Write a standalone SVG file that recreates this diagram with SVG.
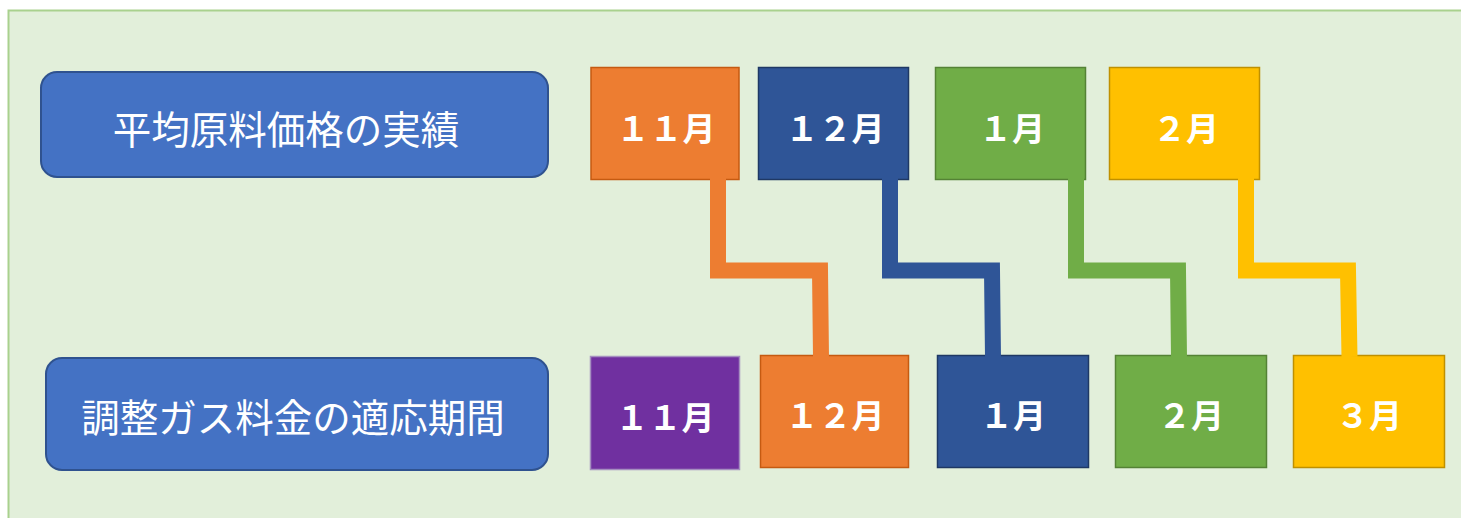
<svg xmlns="http://www.w3.org/2000/svg" width="1461" height="518" viewBox="0 0 1461 518">
<style>
.lbl{fill:#4472c4;stroke:#2f528f;stroke-width:2}
.lt{font-family:"Noto Sans CJK JP","Noto Sans",sans-serif;font-size:38.5px;fill:#fff;text-anchor:middle;dominant-baseline:central}
.mt{font-family:"Noto Sans CJK JP","Noto Sans",sans-serif;font-size:33px;font-weight:bold;fill:#fff;text-anchor:middle;dominant-baseline:central}
.o{fill:#ed7d31;stroke:#c55a11}
.n{fill:#2f5597;stroke:#1f3864}
.g{fill:#70ad47;stroke:#548235}
.y{fill:#ffc000;stroke:#bf9000}
.p{fill:#7030a0;stroke:#a58fc0}
.box{stroke-width:1.5}
.c{fill:none;stroke-width:16;stroke-linejoin:miter;stroke-linecap:butt}
</style>
<rect x="8.5" y="10.5" width="1470" height="520" fill="#e2efda" stroke="#a9d18e" stroke-width="2"/>
<g id="label-actual"><rect class="lbl" x="41" y="72" width="507" height="105" rx="16"/><text class="lt" x="286" y="127">平均原料価格の実績</text></g>
<g id="label-period"><rect class="lbl" x="46" y="358" width="502" height="112" rx="16"/><text class="lt" x="293" y="415">調整ガス料金の適応期間</text></g>
<g id="top-nov"><rect class="box o" x="591" y="67.5" width="148" height="112"/><text class="mt" x="666" y="127">１１月</text></g>
<g id="top-dec"><rect class="box n" x="758.5" y="67.5" width="150" height="112"/><text class="mt" x="835" y="127">１２月</text></g>
<g id="top-jan"><rect class="box g" x="935.5" y="67.5" width="150" height="112"/><text class="mt" x="1012" y="127">１月</text></g>
<g id="top-feb"><rect class="box y" x="1109.5" y="67.5" width="150" height="112"/><text class="mt" x="1186" y="127">２月</text></g>
<g id="bot-nov"><rect class="box p" x="590.5" y="356.5" width="149" height="113"/><text class="mt" x="665" y="416">１１月</text></g>
<g id="bot-dec"><rect class="box o" x="760.5" y="355.5" width="148" height="112"/><text class="mt" x="835" y="414">１２月</text></g>
<g id="bot-jan"><rect class="box n" x="937.5" y="355.5" width="151" height="112"/><text class="mt" x="1013" y="414">１月</text></g>
<g id="bot-feb"><rect class="box g" x="1115.5" y="355.5" width="151" height="112"/><text class="mt" x="1191" y="414">２月</text></g>
<g id="bot-mar"><rect class="box y" x="1293.5" y="355.5" width="151" height="112"/><text class="mt" x="1369" y="414">３月</text></g>
<g id="connectors">
<polyline class="c" stroke="#ed7d31" points="718,178 718,270.5 820,270.5 821,357"/>
<polyline class="c" stroke="#2f5597" points="890,178 890,270.5 992,270.5 993,357"/>
<polyline class="c" stroke="#70ad47" points="1076,178 1076,270.5 1178,270.5 1179,357"/>
<polyline class="c" stroke="#ffc000" points="1246,178 1246,270.5 1348,270.5 1349.5,357"/>
</g>
</svg>
